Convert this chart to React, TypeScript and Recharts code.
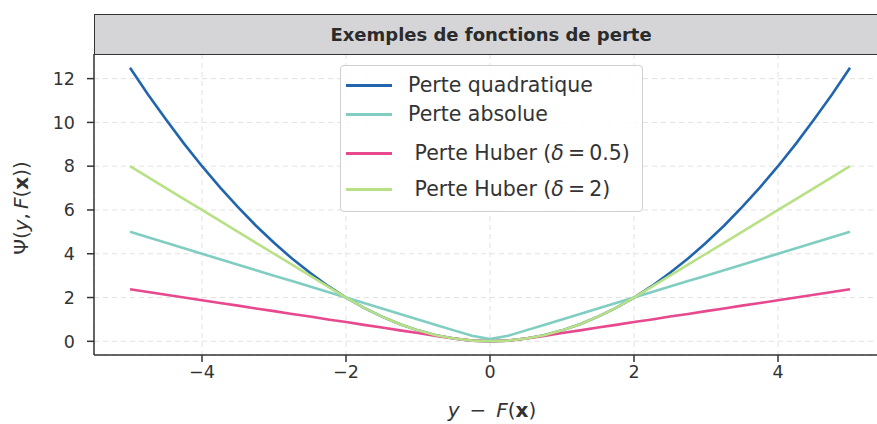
import React from 'react'
import { LineChart, Line, XAxis, YAxis, CartesianGrid } from 'recharts'

// residus y - F(x), pas de 0.25
const residus = [
  -5, -4.75, -4.5, -4.25, -4, -3.75, -3.5, -3.25, -3, -2.75, -2.5, -2.25, -2, -1.75, -1.5, -1.25, -1, -0.75, -0.5, -0.25,
  0, 0.25, 0.5, 0.75, 1, 1.25, 1.5, 1.75, 2, 2.25, 2.5, 2.75, 3, 3.25, 3.5, 3.75, 4, 4.25, 4.5, 4.75, 5,
]
const perteQuadratique = [
  12.5, 11.28, 10.13, 9.03, 8, 7.03, 6.13, 5.28, 4.5, 3.78, 3.13, 2.53, 2, 1.53, 1.13, 0.78, 0.5, 0.28, 0.13, 0.03,
  0, 0.03, 0.13, 0.28, 0.5, 0.78, 1.13, 1.53, 2, 2.53, 3.13, 3.78, 4.5, 5.28, 6.13, 7.03, 8, 9.03, 10.13, 11.28, 12.5,
]
const perteAbsolue = [
  5, 4.75, 4.5, 4.25, 4, 3.75, 3.5, 3.25, 3, 2.75, 2.5, 2.25, 2, 1.75, 1.5, 1.25, 1, 0.75, 0.5, 0.25,
  0.1, 0.25, 0.5, 0.75, 1, 1.25, 1.5, 1.75, 2, 2.25, 2.5, 2.75, 3, 3.25, 3.5, 3.75, 4, 4.25, 4.5, 4.75, 5,
]
const perteHuber05 = [
  2.38, 2.25, 2.13, 2, 1.88, 1.75, 1.63, 1.5, 1.38, 1.25, 1.13, 1, 0.88, 0.75, 0.63, 0.5, 0.38, 0.25, 0.13, 0.03,
  0, 0.03, 0.13, 0.25, 0.38, 0.5, 0.63, 0.75, 0.88, 1, 1.13, 1.25, 1.38, 1.5, 1.63, 1.75, 1.88, 2, 2.13, 2.25, 2.38,
]
const perteHuber2 = [
  8, 7.5, 7, 6.5, 6, 5.5, 5, 4.5, 4, 3.5, 3, 2.5, 2, 1.53, 1.13, 0.78, 0.5, 0.28, 0.13, 0.03,
  0, 0.03, 0.13, 0.28, 0.5, 0.78, 1.13, 1.53, 2, 2.5, 3, 3.5, 4, 4.5, 5, 5.5, 6, 6.5, 7, 7.5, 8,
]
const xTicks = [-4, -2, 0, 2, 4]
const yTicks = [0, 2, 4, 6, 8, 10, 12]

const series = [
  { key: 'quad', color: '#2166ac', label: <>Perte quadratique</> },
  { key: 'abs', color: '#80cdc1', label: <>Perte absolue</> },
  { key: 'h05', color: '#e8488d', label: <>&nbsp;Perte Huber (<i>δ</i>&thinsp;=&thinsp;0.5)</> },
  { key: 'h2', color: '#b8e186', label: <>&nbsp;Perte Huber (<i>δ</i>&thinsp;=&thinsp;2)</> },
]
const legendRows = [19, 48, 87, 123]

const data = residus.map((r, i) => ({
  r,
  quad: perteQuadratique[i],
  abs: perteAbsolue[i],
  h05: perteHuber05[i],
  h2: perteHuber2[i],
}))

const font = '"DejaVu Sans", sans-serif'
const fmt = (v: number) => (v < 0 ? '\u2212' + Math.abs(v) : String(v))

export default function App() {
  return (
    <div style={{ position: 'absolute', left: 0, top: 0, width: 877, height: 424, overflow: 'hidden', background: '#fff' }}>
      <LineChart
        width={900}
        height={424}
        data={data}
        margin={{ top: 54, right: 14, bottom: 0, left: 0 }}
      >
        <CartesianGrid stroke="#e2e2e2" strokeDasharray="5 4" />
        <XAxis
          dataKey="r"
          type="number"
          domain={[-5.5, 5.5]}
          ticks={xTicks}
          allowDataOverflow
          tickFormatter={fmt}
          stroke="#333"
          strokeWidth={1.5}
          tickSize={7}
          tickMargin={4}
          tick={{ fill: '#333', fontSize: 17.5, fontFamily: font }}
          height={69}
        />
        <YAxis
          type="number"
          domain={[-0.625, 13.125]}
          ticks={yTicks}
          allowDataOverflow
          stroke="#333"
          strokeWidth={1.5}
          tickSize={7}
          tickMargin={12}
          tick={{ fill: '#333', fontSize: 17.5, fontFamily: font }}
          width={94}
        />
        {series.map((s) => (
          <Line
            key={s.key}
            type="linear"
            dataKey={s.key}
            stroke={s.color}
            strokeWidth={2.6}
            dot={false}
            isAnimationActive={false}
          />
        ))}
      </LineChart>
      {/* légende */}
      <div
        style={{
          position: 'absolute',
          left: 340,
          top: 65,
          width: 303,
          height: 147,
          boxSizing: 'border-box',
          border: '1px solid #d0d0d0',
          borderRadius: 4,
          background: 'rgba(255,255,255,0.85)',
          fontFamily: font,
          fontSize: 20.5,
          color: '#333',
        }}
      >
        {series.map((s, i) => (
          <div
            key={s.key}
            style={{ position: 'absolute', left: 0, top: legendRows[i] - 12, height: 24, display: 'flex', alignItems: 'center' }}
          >
            <div style={{ marginLeft: 5, width: 46, height: 3, background: s.color }} />
            <span style={{ marginLeft: 16, whiteSpace: 'nowrap' }}>{s.label}</span>
          </div>
        ))}
      </div>
      {/* bandeau du titre */}
      <div
        style={{
          position: 'absolute',
          left: 94,
          top: 14,
          width: 800,
          height: 41,
          boxSizing: 'border-box',
          background: '#d5d5d8',
          border: '1.5px solid #333',
          display: 'flex',
          alignItems: 'center',
        }}
      >
        <div style={{ width: 792, textAlign: 'center', fontFamily: font, fontWeight: 'bold', fontSize: 18, color: '#2b2b2b' }}>
          Exemples de fonctions de perte
        </div>
      </div>
      {/* titres des axes */}
      <div
        style={{
          position: 'absolute',
          left: 492,
          top: 410,
          transform: 'translate(-50%, -50%)',
          fontFamily: font,
          fontSize: 20,
          lineHeight: '22px',
          color: '#333',
          whiteSpace: 'nowrap',
        }}
      >
        <i>y</i>&ensp;−&ensp;<i>F</i>(<b>x</b>)
      </div>
      <div
        style={{
          position: 'absolute',
          left: 21,
          top: 208,
          transform: 'translate(-50%, -50%) rotate(-90deg)',
          fontFamily: font,
          fontSize: 20,
          color: '#333',
          whiteSpace: 'nowrap',
        }}
      >
        Ψ(<i>y</i>,&thinsp;<i>F</i>(<b>x</b>))
      </div>
    </div>
  )
}
